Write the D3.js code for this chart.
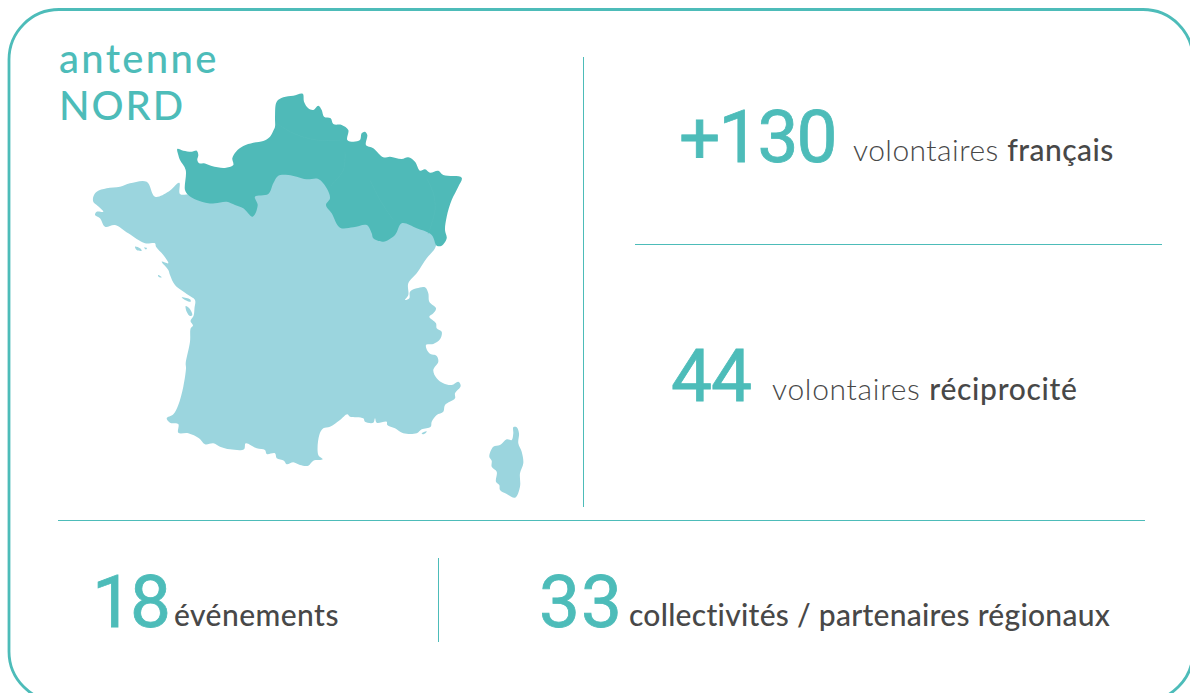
<!DOCTYPE html>
<html>
<head>
<meta charset="utf-8">
<script src="https://cdn.jsdelivr.net/npm/d3@7"></script>
<style>
  html, body { margin: 0; padding: 0; background: #fff; overflow: hidden; }
  text { font-family: Lato, sans-serif; font-variant-ligatures: none; }
  text.number { font-family: Roboto, sans-serif; font-weight: 400; stroke: #4dbcb9; stroke-width: 0.8; }
</style>
</head>
<body>
<div id="chart"></div>
<script>
// antenne title
var titleLines = ["antenne", "NORD"];

// the figures
var statValues = ["+130", "44", "18", "33"];
var statLabels = ["volontaires ", "volontaires ", "", ""];
var statStrong = ["français", "réciprocité", "événements", "collectivités / partenaires régionaux"];

// map outlines, in map units (x, y pairs)
var mainland = [
  3.3,106.7, 6.7,101.7, 16.7,98.3, 30,96.7, 40,93.3, 56.7,91.7, 65,106.7, 78.3,101.7, 89.3,92.7, 90,104, 100,104,
  130,98, 200,70, 300,90, 348,130, 347,150,
  345,158.3, 336.7,168.3, 326.7,183.3, 318.3,193.3, 318.3,205, 315,210, 319.3,208.3, 320,201.7, 326.7,198.3, 335,197.3,
  338.3,203.3, 339.3,211.7, 346,218.3, 343.3,223.3, 339.3,226.7, 346,233.3, 346.7,238.3, 351.7,241.7, 350,249.3, 343.3,254,
  336,255, 339.3,263.3, 346.7,266, 348.3,271.7, 343.3,280, 346.7,288.3, 353.3,293.3, 361.7,295, 368.3,291.7, 370.7,296,
  365,303.3, 365,308.3, 355,315, 353.3,321.7, 346.7,325, 341.7,331.7, 340.7,336.7, 331.7,339.3, 326.7,343.3, 313.3,343.3,
  305,338.3, 297.3,335, 296.7,331.7, 286.7,332.7, 285,328.3, 283.3,332.7, 275,331.7, 273.3,328.3, 260,326.7, 257.3,324.3,
  250,330, 240,336.7, 233.3,338.3, 229.3,345, 228.3,365, 232.7,369.3, 223.3,370.7, 218.3,375.7, 210,375, 203.3,372.3,
  196.7,374.3, 194,370.7, 186.7,368.3, 185,363.3, 176.7,364, 175,360, 166.7,358.3, 155.7,353.3, 154,359.3, 140,359.3,
  130,356.7, 123.3,353.3, 115,354.3, 109,348.3, 98.3,343.3, 88.3,342.7, 88.3,334, 80,332.7, 76.7,328.3, 83.3,324.3,
  88.3,315, 93.3,296.7, 96,278.3, 95.7,273.3, 100,251.7, 100.7,238.3, 103,235.5, 100.5,231, 103.5,226, 104.5,218, 105,210,
  98.3,205, 85,195, 80,185, 78.3,180, 71.7,171.7, 78.3,173.3, 73.3,165, 66,156.7, 65,153.3, 55,153.3, 38.3,143.3, 25,135,
  15,136.7, 10,128.3, 5,125, 6.7,121.7, 13.3,121.7, 6.7,115, 3.3,111.7
];
var north = [
  87.3,59, 93.3,60.7, 101.7,61.7, 106.7,60.7, 108.3,65, 107.3,70, 109.3,73.3, 114,73.3, 121.7,76, 133.3,78, 138.3,77.3,
  143.3,75, 142.3,68.3, 146,61.7, 153.3,56, 163.3,52.7, 173.3,51, 180,46.7, 183.3,40.7, 185,36.7, 185,26.7, 186.7,11.7,
  193.3,7.3, 203.3,5.7, 212.7,3.7, 214,11.7, 218.3,18.3, 223.3,20, 228.3,15.7, 231.7,20, 234,26.7, 240.7,28.3, 243.3,34,
  251.7,35, 258.3,40, 257.3,50, 263.3,51.7, 270,50, 271.7,43.3, 275,41.7, 277.3,45, 276,55, 283.3,58.3, 293.3,67.3,
  300,66.7, 311.7,69, 318.3,67.3, 325,71.7, 330,80.7, 335,79.3, 340,82.7, 348.3,80.7, 353.3,85, 371.7,87.7, 368.3,96.7,
  361.7,110, 356.7,126.7, 355,140, 356.7,148.3, 351.7,155.7, 346.7,155.7, 341.7,145, 326.7,138.3, 311.7,133.3, 305,145,
  293.3,151.7, 283.3,148.3, 281.7,143.3, 276.7,135, 263.3,137.3, 250,137.7, 241.7,123.3, 236,115, 240,108.3, 236.7,98.3,
  228.3,89, 216.7,89.3, 206.7,86.7, 198.3,85, 188.3,85.7, 183.3,93.3, 178.3,104, 165,106.7, 167.7,115, 162.7,126.7,
  153.3,118.3, 145,115, 136.7,111.7, 125,113.3, 118.3,113.3, 106.7,110, 98.3,105, 95,100, 95.7,80, 90,70, 88.3,65
];
var northBorders = [
  [186.7,33.3, 203.3,43.3, 226.7,50, 253.3,50],
  [255,61.7, 253.3,80, 238.3,98.3],
  [336.7,88.3, 343.3,103.3, 345,120, 338.3,143.3],
  [280,90, 290,110, 303.3,130]
];
var corsica = [
  423.3,337.3, 426.7,337.3, 429,343.3, 428.3,353.3, 431.7,361.7, 433.3,373.3, 430,383.3, 430,396.7, 425,407.7, 416.7,404,
  410,400, 409.3,395, 406,391.7, 406.7,381.7, 401.7,376.7, 401.7,370.7, 399.3,366.7, 403.3,356.7, 410,355, 416.7,349.3,
  421.7,350, 423.3,343.3
];
var islands = [
  [91.7,207.3, 100,209.3, 100.7,211.7, 95,210],
  [95.7,216, 99.3,218.3, 102.3,225, 100,226, 96.7,221.7],
  [45,156.7, 50,158.3, 51.7,160.7, 46.7,160],
  [54,157.5, 57,158, 56,159.5],
  [68.3,185, 71.7,187.3, 70,187.5, 68,186],
  [331.7,343.3, 336.7,341.3, 336,342.7, 332.7,344.3]
];

var width = 1190, height = 693;
var teal = "#4dbcb9", mapDark = "#4fbab8", mapLight = "#9bd5de", grey = "#484848";

var svg = d3.select("#chart")
            .append("svg")
            .attr("width", width)
            .attr("height", height)
            .style("display", "block");

// card frame runs off the right and bottom of the picture
svg.append("rect")
   .attr("x", 9).attr("y", 9.5)
   .attr("width", 1184).attr("height", 692)
   .attr("rx", 50).attr("ry", 50)
   .attr("fill", "none")
   .attr("stroke", teal)
   .attr("stroke-width", 2.8);

// separators
var rules = [
  [583.5, 57, 583.5, 507],
  [635, 244.5, 1162, 244.5],
  [58, 520.5, 1145, 520.5],
  [438.5, 558, 438.5, 642]
];
svg.selectAll("line.rule").data(rules).enter().append("line")
   .attr("class", "rule")
   .attr("x1", function(d){ return d[0]; })
   .attr("y1", function(d){ return d[1]; })
   .attr("x2", function(d){ return d[2]; })
   .attr("y2", function(d){ return d[3]; })
   .attr("stroke", teal)
   .attr("stroke-width", 1);

// map
var mapX = d3.scaleLinear().domain([0, 440]).range([90, 530]);
var mapY = d3.scaleLinear().domain([0, 410]).range([90, 500]);

var toPairs = function(flat){
  return d3.range(0, flat.length, 2).map(function(i){ return [flat[i], flat[i + 1]]; });
};
var outline = d3.line()
  .x(function(d){ return mapX(d[0]); })
  .y(function(d){ return mapY(d[1]); })
  .curve(d3.curveCatmullRomClosed.alpha(0.5));
var border = d3.line()
  .x(function(d){ return mapX(d[0]); })
  .y(function(d){ return mapY(d[1]); })
  .curve(d3.curveCatmullRom.alpha(0.5));

var mapGroup = svg.append("g");
[mainland, corsica].concat(islands).forEach(function(shape){
  mapGroup.append("path").attr("d", outline(toPairs(shape))).attr("fill", mapLight);
});
mapGroup.append("path").attr("d", outline(toPairs(north))).attr("fill", mapDark);
northBorders.forEach(function(shape){
  mapGroup.append("path").attr("d", border(toPairs(shape)))
          .attr("fill", "none").attr("stroke", "#53bcba").attr("stroke-width", 1);
});

// title
svg.selectAll("text.title").data(titleLines).enter().append("text")
   .attr("class", "title")
   .attr("x", 59)
   .attr("y", function(d, i){ return i === 0 ? 73 : 120; })
   .attr("fill", teal)
   .attr("font-size", 40)
   .attr("font-weight", 500)
   .attr("letter-spacing", function(d, i){ return i === 0 ? 2.3 : 1.9; })
   .text(function(d){ return d; });

// figures: number x, number baseline, number size, letter spacing, label x, label baseline, label spacing
var statLayout = [
  [679, 162, 73, -2, 853, 161, 0.45],
  [671, 401, 73, -1, 772, 400, 0.7],
  [92, 627, 73, -3, 174, 626, 0.45],
  [539, 627, 73, 1, 629, 626, 0.28]
];
var stats = svg.selectAll("g.stat").data(statValues).enter().append("g").attr("class", "stat");
stats.append("text")
     .attr("class", "number")
     .attr("x", function(d, i){ return statLayout[i][0]; })
     .attr("y", function(d, i){ return statLayout[i][1]; })
     .attr("font-size", function(d, i){ return statLayout[i][2]; })
     .attr("letter-spacing", function(d, i){ return statLayout[i][3]; })
     .attr("fill", teal)
     .text(function(d){ return d; });
var labels = stats.append("text")
     .attr("x", function(d, i){ return statLayout[i][4]; })
     .attr("y", function(d, i){ return statLayout[i][5]; })
     .attr("font-size", 30)
     .attr("letter-spacing", function(d, i){ return statLayout[i][6]; })
     .attr("fill", grey);
labels.append("tspan").attr("font-weight", 300).text(function(d, i){ return statLabels[i]; });
labels.append("tspan").attr("font-weight", 500).text(function(d, i){ return statStrong[i]; });
</script>
</body>
</html>
